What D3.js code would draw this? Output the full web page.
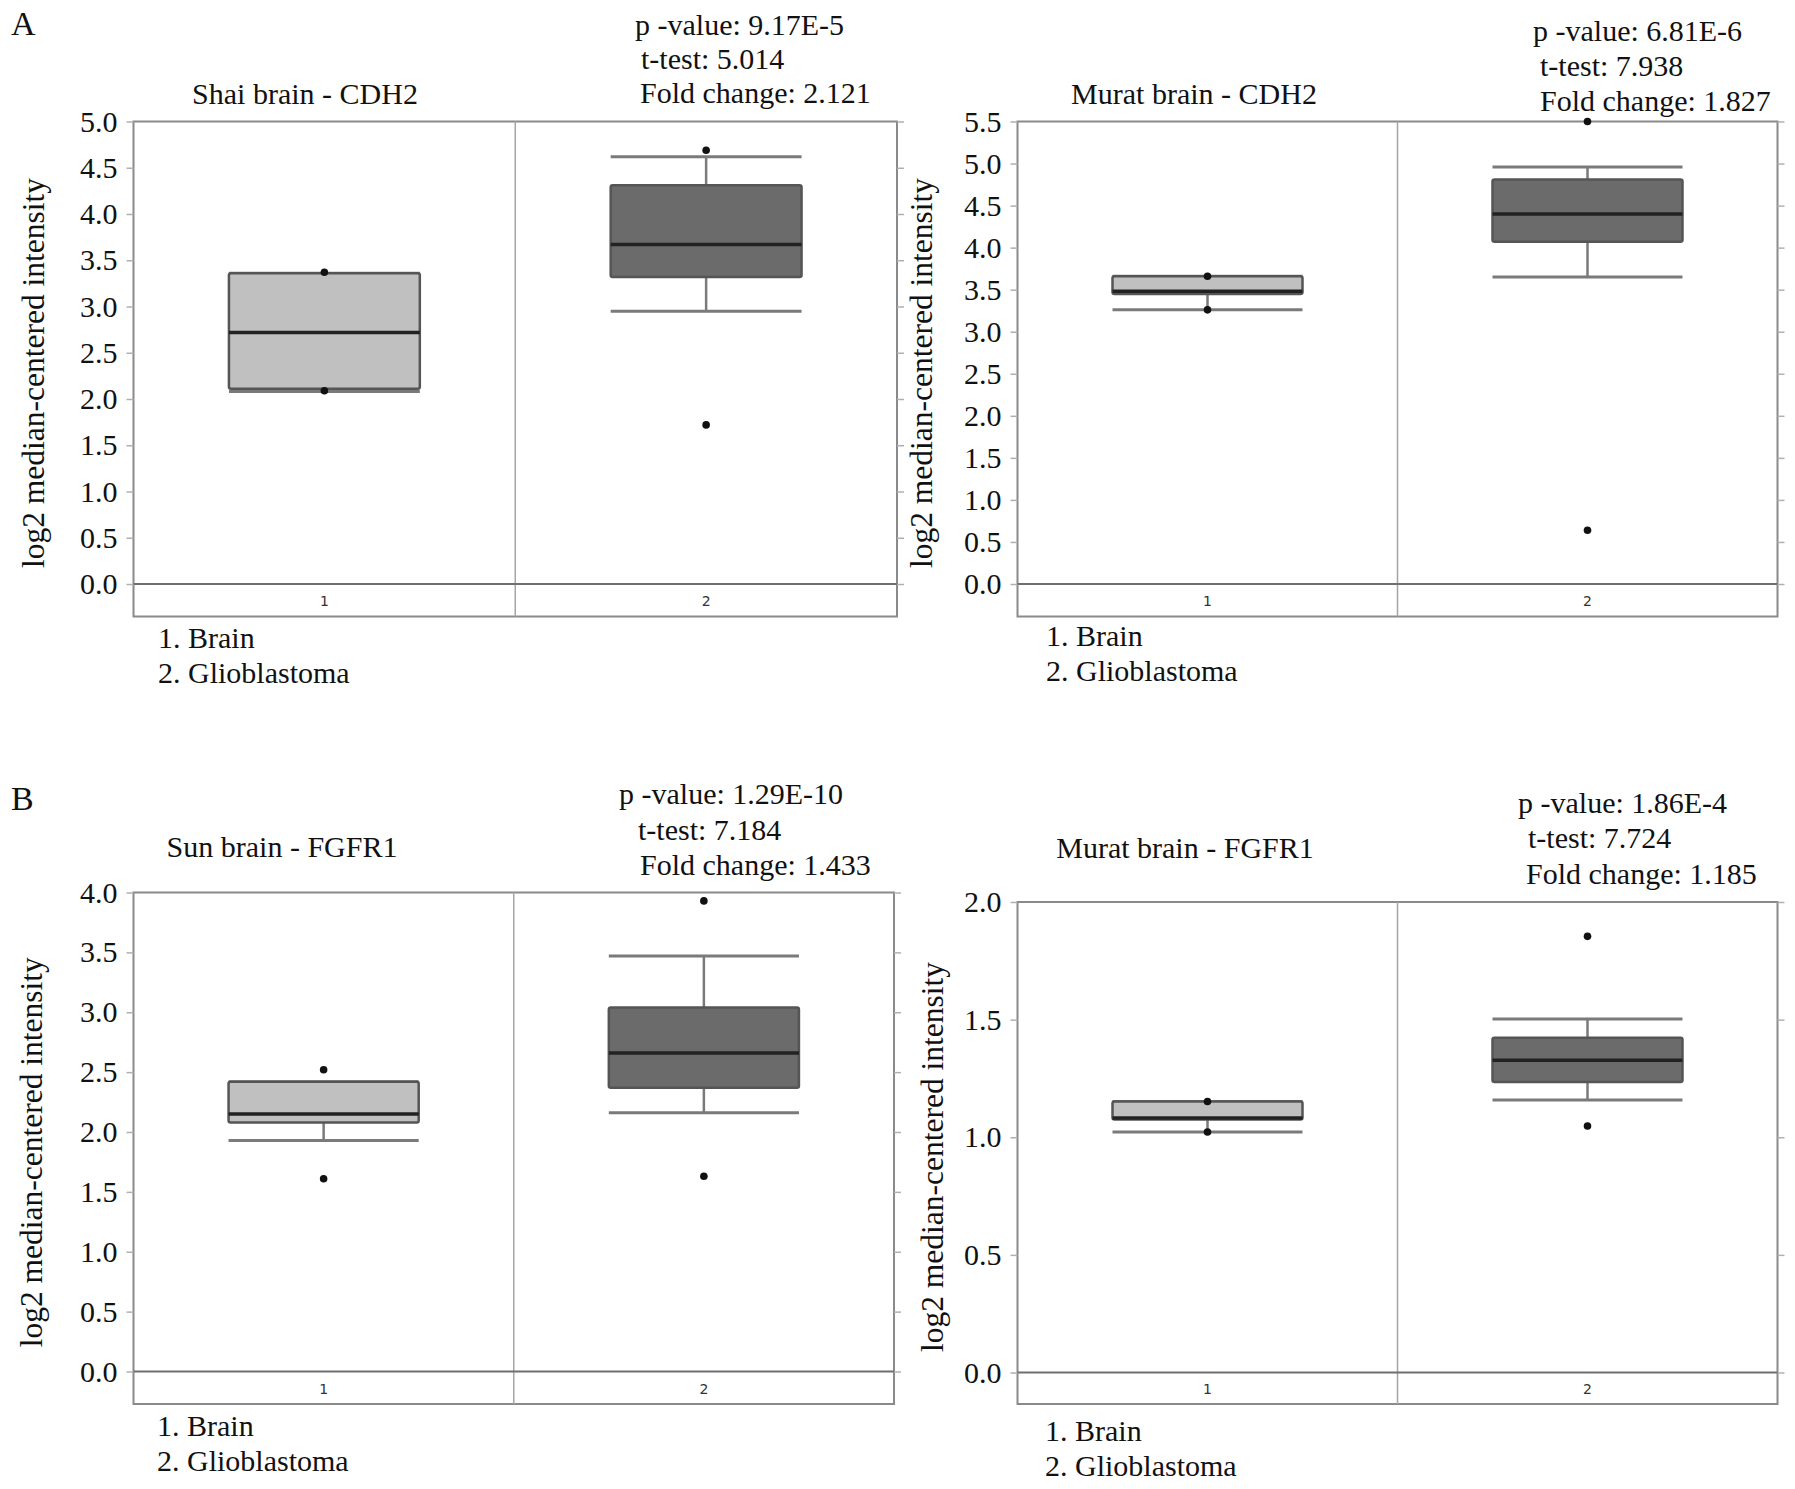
<!DOCTYPE html>
<html>
<head>
<meta charset="utf-8">
<script src="https://cdn.jsdelivr.net/npm/d3@7"></script>
<style>
  html, body { margin: 0; padding: 0; background: #fff; }
  svg { display: block; }
</style>
</head>
<body>
<div id="chart"></div>
<script>
// Oncomine-style box plots: CDH2 / FGFR1 in brain vs glioblastoma

// ---- data ----
const groups = ["1", "2"];
const groupNames = ["Brain", "Glioblastoma"];
const panelLetters = ["A", "", "B", ""];
const panelTitles = ["Shai brain - CDH2", "Murat brain - CDH2", "Sun brain - FGFR1", "Murat brain - FGFR1"];
const pValues = ["9.17E-5", "6.81E-6", "1.29E-10", "1.86E-4"];
const tTests = ["5.014", "7.938", "7.184", "7.724"];
const foldChanges = ["2.121", "1.827", "1.433", "1.185"];
const yMax = [5.0, 5.5, 4.0, 2.0];
const yTickStep = 0.5;

// per panel: [Brain, Glioblastoma]
const whiskerLow  = [[2.08, 2.95], [3.26, 3.65], [1.93, 2.16], [1.022, 1.158]];
const q1          = [[2.11, 3.32], [3.45, 4.07], [2.08, 2.37], [1.075, 1.235]];
const medians     = [[2.72, 3.67], [3.48, 4.40], [2.15, 2.66], [1.082, 1.327]];
const q3          = [[3.36, 4.31], [3.66, 4.81], [2.42, 3.04], [1.152, 1.423]];
const whiskerHigh = [[3.36, 4.62], [3.66, 4.96], [2.42, 3.47], [1.152, 1.503]];
const extremes    = [
  [[3.37, 2.09], [4.69, 1.72]],
  [[3.66, 3.26], [5.50, 0.64]],
  [[2.52, 1.61], [3.93, 1.63]],
  [[1.152, 1.022], [1.854, 1.048]]
];

// ---- layout ----
const W = 1795, H = 1489;
const serif = "'Liberation Serif', 'Times New Roman', serif";
const ink = "#111";
const boxFill = ["#c0c0c0", "#6b6b6b"];

const frames = [
  { x0: 133.5, x1: 897, top: 121.5, bottom: 616.5, zero: 584, labelX: 37, legendX: 158, legendY: 648,
    titleX: 305, titleY: 104, statX: [635, 641, 640], statY: [35, 69, 103], letterY: 35 },
  { x0: 1017.5, x1: 1777.5, top: 121.5, bottom: 616.5, zero: 584, labelX: 925, legendX: 1046, legendY: 646,
    titleX: 1194, titleY: 104, statX: [1533, 1540, 1540], statY: [41, 76, 111] },
  { x0: 133.5, x1: 894, top: 892.5, bottom: 1404, zero: 1371.5, labelX: 35, legendX: 157, legendY: 1436,
    titleX: 282, titleY: 857, statX: [619, 638, 640], statY: [804, 840, 875], letterY: 810 },
  { x0: 1017.5, x1: 1777.5, top: 902, bottom: 1404, zero: 1372.5, labelX: 936, legendX: 1045, legendY: 1441,
    titleX: 1185, titleY: 858, statX: [1518, 1528, 1526], statY: [813, 848, 884] }
];

const svg = d3.select("#chart").append("svg")
  .attr("width", W).attr("height", H)
  .attr("viewBox", [0, 0, W, H]);

function drawPanel(i) {
  const f = frames[i];
  const g = svg.append("g");

  const x = d3.scaleBand().domain(groups).range([f.x0, f.x1]);
  const y = d3.scaleLinear().domain([0, yMax[i]]).range([f.zero, f.top]);
  const ticks = d3.range(0, yMax[i] + 1e-9, yTickStep);

  // frame
  g.append("rect")
    .attr("x", f.x0).attr("y", f.top)
    .attr("width", f.x1 - f.x0).attr("height", f.bottom - f.top)
    .attr("fill", "none").attr("stroke", "#8a8a8a").attr("stroke-width", 2);

  // divider between groups
  g.append("line")
    .attr("x1", x("2")).attr("x2", x("2"))
    .attr("y1", f.top).attr("y2", f.bottom)
    .attr("stroke", "#a5a5a5").attr("stroke-width", 1.5);

  // zero line
  g.append("line")
    .attr("x1", f.x0).attr("x2", f.x1)
    .attr("y1", y(0)).attr("y2", y(0))
    .attr("stroke", "#6e6e6e").attr("stroke-width", 2);

  // left axis with labels
  const left = g.append("g")
    .attr("transform", `translate(${f.x0},0)`)
    .call(d3.axisLeft(y).tickValues(ticks).tickFormat(d3.format(".1f")).tickSize(7).tickPadding(9));
  left.select(".domain").remove();
  left.selectAll(".tick line").attr("stroke", "#b0b0b0").attr("stroke-width", 1.5);
  left.selectAll(".tick text")
    .attr("font-family", serif).attr("font-size", 30).attr("fill", ink);

  // right axis ticks only
  const right = g.append("g")
    .attr("transform", `translate(${f.x1},0)`)
    .call(d3.axisRight(y).tickValues(ticks).tickFormat("").tickSize(7));
  right.select(".domain").remove();
  right.selectAll(".tick line").attr("stroke", "#b0b0b0").attr("stroke-width", 1.5);

  // category numbers under zero line
  g.selectAll(".cat").data(groups).join("text")
    .attr("x", d => x(d) + x.bandwidth() / 2)
    .attr("y", (y(0) + f.bottom) / 2 + 6)
    .attr("text-anchor", "middle")
    .attr("font-family", "'DejaVu Sans', sans-serif")
    .attr("font-size", 14).attr("fill", "#333")
    .text(d => d);

  // boxes
  const bw = x.bandwidth() / 2;
  groups.forEach((grp, k) => {
    const cx = x(grp) + x.bandwidth() / 2;
    const bx = cx - bw / 2;
    const wc = "#7a7a7a";

    // whisker stems
    g.append("line").attr("x1", cx).attr("x2", cx)
      .attr("y1", y(q3[i][k])).attr("y2", y(whiskerHigh[i][k]))
      .attr("stroke", wc).attr("stroke-width", 2.5);
    g.append("line").attr("x1", cx).attr("x2", cx)
      .attr("y1", y(q1[i][k])).attr("y2", y(whiskerLow[i][k]))
      .attr("stroke", wc).attr("stroke-width", 2.5);
    // whisker caps
    [whiskerHigh[i][k], whiskerLow[i][k]].forEach(v => {
      g.append("line").attr("x1", bx).attr("x2", bx + bw)
        .attr("y1", y(v)).attr("y2", y(v))
        .attr("stroke", wc).attr("stroke-width", 3);
    });

    g.append("rect")
      .attr("x", bx).attr("y", y(q3[i][k]))
      .attr("width", bw).attr("height", y(q1[i][k]) - y(q3[i][k]))
      .attr("rx", 2)
      .attr("fill", boxFill[k]).attr("stroke", "#555").attr("stroke-width", 2.5);

    g.append("line").attr("x1", bx).attr("x2", bx + bw)
      .attr("y1", y(medians[i][k])).attr("y2", y(medians[i][k]))
      .attr("stroke", "#222").attr("stroke-width", 3.5);

    g.selectAll(null).data(extremes[i][k]).join("circle")
      .attr("cx", cx).attr("cy", d => y(d)).attr("r", 3.8)
      .attr("fill", "#111");
  });

  // y axis label
  g.append("text")
    .attr("transform", `translate(${f.labelX},${(f.top + f.bottom) / 2 + 4}) rotate(-90)`)
    .attr("text-anchor", "middle").attr("dominant-baseline", "middle")
    .attr("font-family", serif).attr("font-size", 31.5).attr("fill", ink)
    .text("log2 median-centered intensity");

  // title
  g.append("text")
    .attr("x", f.titleX).attr("y", f.titleY)
    .attr("text-anchor", "middle")
    .attr("font-family", serif).attr("font-size", 30).attr("fill", ink)
    .text(panelTitles[i]);

  // statistics
  const stats = ["p -value: " + pValues[i], "t-test: " + tTests[i], "Fold change: " + foldChanges[i]];
  stats.forEach((s, j) => {
    g.append("text")
      .attr("x", f.statX[j]).attr("y", f.statY[j])
      .attr("font-family", serif).attr("font-size", 30).attr("fill", ink)
      .text(s);
  });

  // legend
  groupNames.forEach((n, j) => {
    g.append("text")
      .attr("x", f.legendX).attr("y", f.legendY + j * 35)
      .attr("font-family", serif).attr("font-size", 30).attr("fill", ink)
      .text(groups[j] + ". " + n);
  });

  // panel letter
  if (panelLetters[i]) {
    g.append("text")
      .attr("x", 11).attr("y", f.letterY)
      .attr("font-family", serif).attr("font-size", 34).attr("fill", ink)
      .text(panelLetters[i]);
  }
}

[0, 1, 2, 3].forEach(drawPanel);
</script>
</body>
</html>
